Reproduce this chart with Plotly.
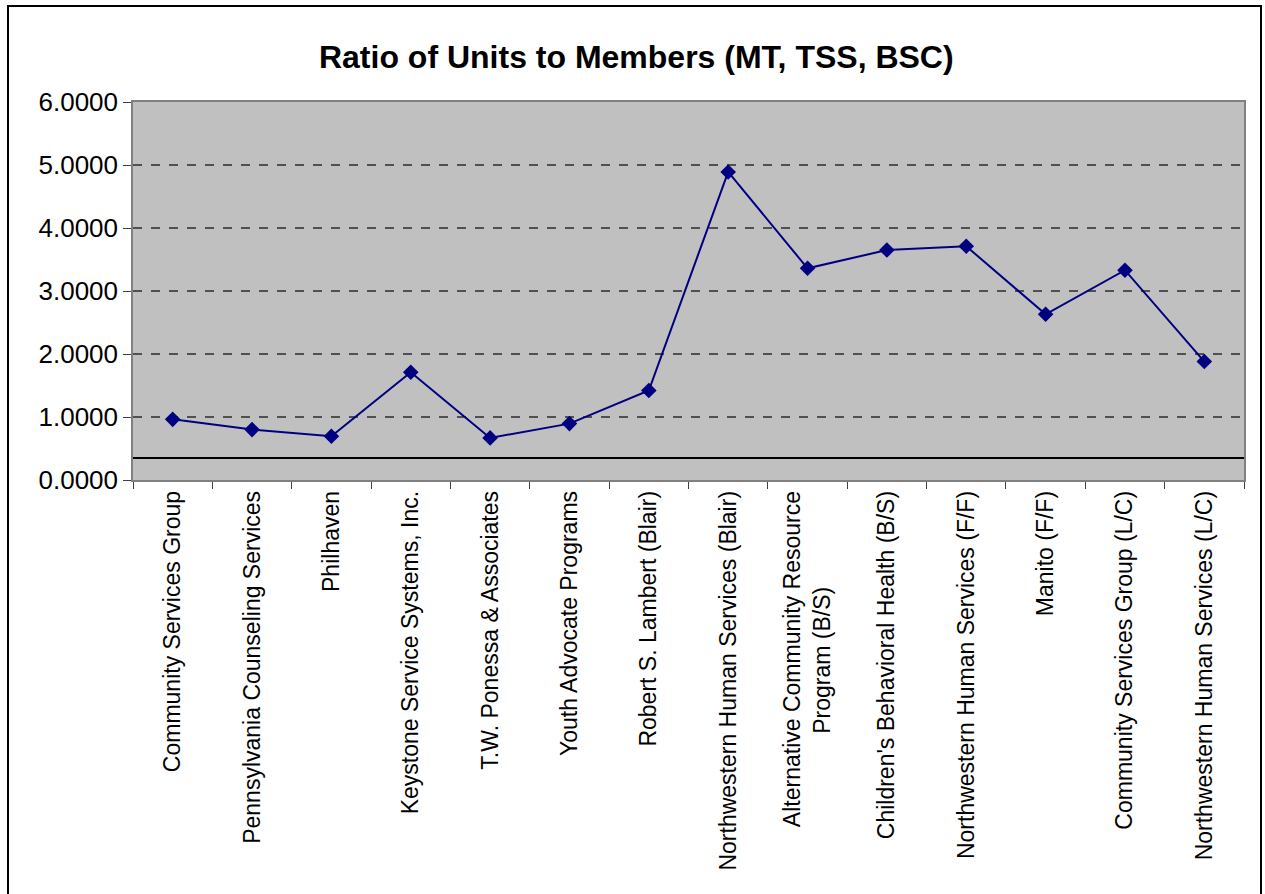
import plotly.graph_objects as go

NBSP = "\u00a0"
categories = [
    "Community Services Group",
    "Pennsylvania Counseling Services",
    "Philhaven",
    "Keystone Service Systems, Inc.",
    "T.W. Ponessa & Associates",
    "Youth Advocate Programs",
    "Robert S. Lambert (Blair)",
    "Northwestern Human Services (Blair)",
    "Alternative Community Resource<br>Program (B/S)" + NBSP * 15,
    "Children's Behavioral Health (B/S)",
    "Northwestern Human Services (F/F)",
    "Manito (F/F)",
    "Community Services Group (L/C)",
    "Northwestern Human Services (L/C)",
]
ratios = [0.963, 0.80, 0.695, 1.71, 0.668, 0.895, 1.42, 4.89, 3.36, 3.65, 3.71, 2.63, 3.33, 1.88]
reference_value = 0.35
y_ticks = [0, 1, 2, 3, 4, 5, 6]

FONT = "Liberation Sans, Arial, sans-serif"

fig = go.Figure()
fig.add_trace(go.Scatter(
    x=categories, y=ratios, mode="lines+markers",
    line=dict(color="#000080", width=2),
    marker=dict(symbol="diamond", size=12, color="#000080"),
    showlegend=False,
))

fig.add_shape(type="line", xref="paper", yref="y", x0=0, x1=1,
              y0=reference_value, y1=reference_value,
              line=dict(color="black", width=2))

# outer chart border
fig.add_shape(type="rect", xref="paper", yref="paper",
              x0=-125/1111, x1=(1261-133)/1111, y0=-1.2, y1=(480-6)/378,
              line=dict(color="black", width=2), fillcolor="rgba(0,0,0,0)", layer="below")

fig.update_layout(
    width=1265, height=894,
    margin=dict(l=133, r=21, t=102, b=414),
    paper_bgcolor="white", plot_bgcolor="#C0C0C0",
    font=dict(family=FONT, color="black"),
    title=dict(text="<b>Ratio of Units to Members (MT, TSS, BSC)</b>",
               x=0.503, xanchor="center", y=1-57/894, yanchor="middle",
               yref="container", font=dict(size=32, family=FONT, color="black")),
)
fig.update_yaxes(
    range=[0, 6], tickvals=y_ticks, tickformat=".4f",
    tickfont=dict(size=26, family=FONT, color="black"),
    showgrid=True, gridcolor="#505050", griddash="dash", gridwidth=1.5,
    showline=True, linecolor="#808080", linewidth=1.5, mirror=True,
    ticks="outside", ticklen=8, tickcolor="#404040",
    zeroline=False,
)
fig.update_xaxes(
    type="category", tickangle=-90,
    tickfont=dict(size=23, family=FONT, color="black"),
    showgrid=False, showline=True, linecolor="#808080", linewidth=1.5, mirror=True,
    ticks="outside", tickson="boundaries", ticklen=7, tickcolor="#404040",
    range=[-0.5, len(categories) - 0.5],
)

fig.write_html("out.html", config={"displayModeBar": False},
               post_script="document.body.style.margin='0';document.body.style.overflow='hidden';")
